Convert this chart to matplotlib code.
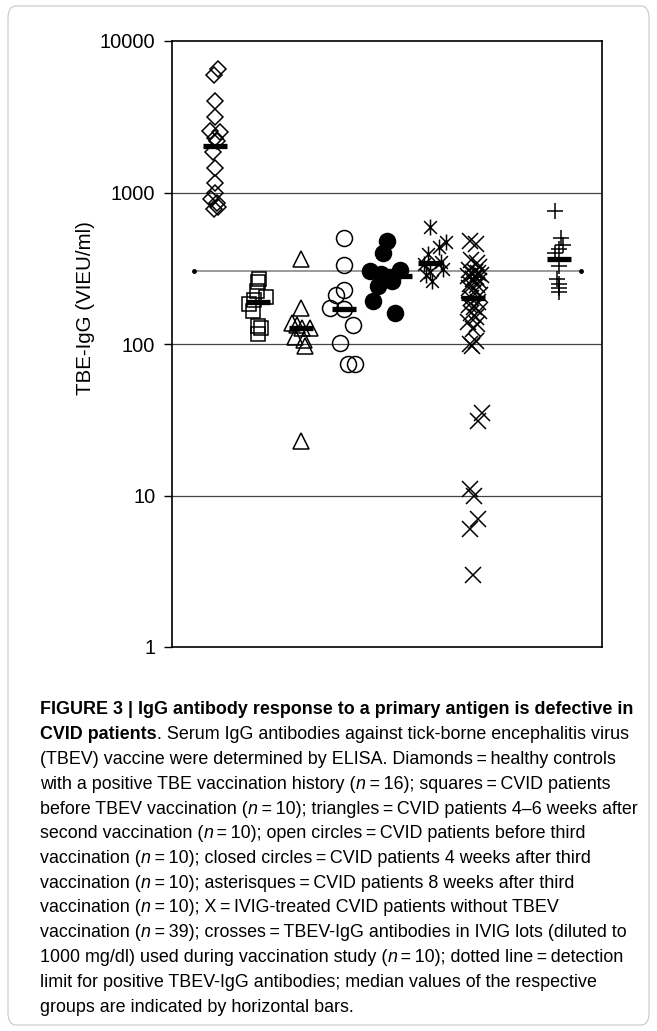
import re
import numpy as np
import matplotlib
matplotlib.use("Agg")
import matplotlib.pyplot as plt
from matplotlib.path import Path
from matplotlib.patches import FancyBboxPatch
from matplotlib import font_manager

# group values (VIEU/ml)
diamonds = [6500, 6000, 4000, 3150, 2550, 2500, 2300, 2200, 1850, 1450, 1150, 1000, 900, 850, 800, 780]
squares = [270, 255, 225, 205, 195, 185, 165, 132, 127, 117]
triangles = [365, 172, 137, 133, 127, 127, 112, 106, 97, 23]
open_circles = [500, 330, 227, 210, 172, 170, 133, 101, 74, 74]
closed_circles = [480, 400, 310, 305, 290, 275, 260, 240, 192, 160]
asterisks = [590, 470, 440, 390, 350, 335, 315, 300, 285, 260]
x_ivig = [480, 455, 360, 340, 320, 310, 300, 295, 290, 285,
          280, 275, 270, 260, 250, 245, 235, 225, 210, 200,
          190, 180, 175, 165, 160, 150, 140, 135, 125, 105,
          100, 97, 35, 31, 11, 10, 7, 6, 3]
crosses = [760, 500, 450, 425, 400, 325, 270, 250, 235, 222]
detection_limit = 305

# horizontal scatter of the points within each column
diamond_jit = [0.08, -0.02, 0, 0, -0.12, 0.12, 0, 0.05, -0.05, 0, 0, 0, -0.1, 0.05, 0.08, -0.02]
square_jit = [0.03, 0.0, -0.03, 0.18, -0.1, -0.2, -0.12, 0.0, 0.08, 0.0]
triangle_jit = [0, 0, -0.22, -0.1, 0.02, 0.2, -0.14, 0.08, 0.1, 0]
open_jit = [0, 0, 0, -0.19, -0.33, 0.0, 0.2, -0.1, 0.1, 0.25]
closed_jit = [0, -0.1, 0.3, -0.4, -0.15, 0.05, 0.12, -0.2, -0.32, 0.19]
aster_jit = [0, 0.38, 0.2, -0.05, 0.25, -0.15, 0.3, 0.0, -0.1, 0.05]
x_jit = [-0.08, 0.06, -0.05, 0.1, 0.15, -0.1, 0.05, 0.12, -0.02, 0.18,
         -0.12, 0.08, 0.0, 0.14, -0.06, 0.1, -0.1, 0.05, 0.16, -0.04,
         0.12, -0.1, 0.02, 0.15, -0.05, 0.08, -0.12, 0.1, 0.0, 0.06,
         -0.08, -0.02, 0.2, 0.12, -0.08, 0.02, 0.12, -0.08, 0.0]
cross_jit = [-0.1, 0.05, 0.1, 0.0, -0.1, 0.0, -0.05, 0.0, 0.0, 0.0]

# asterisk marker: X plus a vertical stroke
STAR = Path([(-1, -1), (1, 1), (-1, 1), (1, -1), (0, -1.25), (0, 1.25)],
            [Path.MOVETO, Path.LINETO] * 3)

GROUPS = [
    # values, jitter, x, marker, size, filled, median bar shift
    (diamonds, diamond_jit, 1, "D", 8.5, False, 0.0),
    (squares, square_jit, 2, "s", 10.5, False, 0.0),
    (triangles, triangle_jit, 3, "^", 11.5, False, 0.0),
    (open_circles, open_jit, 4, "o", 11.5, False, 0.0),
    (closed_circles, closed_jit, 5, "o", 11.5, True, 0.3),
    (asterisks, aster_jit, 6, STAR, 11.5, False, 0.0),
    (x_ivig, x_jit, 7, "x", 11, False, 0.0),
    (crosses, cross_jit, 9, "+", 12, False, 0.0),
]

names = {f.name for f in font_manager.fontManager.ttflist}
CAP_FONT = "Liberation Sans Narrow" if "Liberation Sans Narrow" in names else "Liberation Sans"
plt.rcParams["font.family"] = ["Liberation Sans", "DejaVu Sans"]

W, H = 657, 1031
fig = plt.figure(figsize=(W / 100, H / 100), dpi=100)
ax = fig.add_axes([172 / W, 1 - 647 / H, 430 / W, 606 / H])

for vals, jit, xpos, marker, ms, filled, shift in GROUPS:
    vals = np.asarray(vals, dtype=float)
    xs = xpos + np.asarray(jit)
    med = np.median(vals)
    ax.plot([xpos + shift - 0.27, xpos + shift + 0.27], [med, med],
            color="black", lw=3.8, solid_capstyle="butt", zorder=2)
    ax.plot(xs, vals, ls="none", marker=marker, ms=ms,
            mfc="black" if filled else "none", mec="black",
            mew=1.1, zorder=3)

ax.plot([0.5, 9.5], [detection_limit, detection_limit], color="#7f7f7f",
        lw=1.1, marker="o", ms=2.5, mfc="black", mec="black", zorder=1)

for g in [10, 100, 1000]:
    ax.axhline(g, color="#444444", lw=0.9, zorder=0)

ax.set_yscale("log")
ax.set_ylim(1, 10000)
ax.set_xlim(0, 10)
ax.set_yticks([1, 10, 100, 1000, 10000])
ax.set_yticklabels(["1", "10", "100", "1000", "10000"])
ax.yaxis.set_minor_locator(matplotlib.ticker.NullLocator())
ax.set_xticks([])
ax.tick_params(axis="y", length=6, width=1, pad=6, labelsize=14.4)
for s in ax.spines.values():
    s.set_linewidth(1.2)
ax.set_ylabel("TBE-IgG (VIEU/ml)", fontsize=14.8)
ax.yaxis.set_label_coords(-0.179, 0.56)

# rounded frame around the whole figure
fig.patches.append(FancyBboxPatch((8 / W, 6 / H), 641 / W, 1019 / H,
                                  boxstyle="round,pad=0,rounding_size=0.012",
                                  transform=fig.transFigure, fill=False,
                                  ec="#c8c8c8", lw=0.8))

caption = [
    "**FIGURE 3 | IgG antibody response to a primary antigen is defective in**",
    "**CVID patients**. Serum IgG antibodies against tick-borne encephalitis virus",
    "(TBEV) vaccine were determined by ELISA. Diamonds = healthy controls",
    "with a positive TBE vaccination history (_n_ = 16); squares = CVID patients",
    "before TBEV vaccination (_n_ = 10); triangles = CVID patients 4\u20136 weeks after",
    "second vaccination (_n_ = 10); open circles = CVID patients before third",
    "vaccination (_n_ = 10); closed circles = CVID patients 4 weeks after third",
    "vaccination (_n_ = 10); asterisques = CVID patients 8 weeks after third",
    "vaccination (_n_ = 10); X = IVIG-treated CVID patients without TBEV",
    "vaccination (_n_ = 39); crosses = TBEV-IgG antibodies in IVIG lots (diluted to",
    "1000 mg/dl) used during vaccination study (_n_ = 10); dotted line = detection",
    "limit for positive TBEV-IgG antibodies; median values of the respective",
    "groups are indicated by horizontal bars.",
]

CAP_FS = 12.9
renderer = fig.canvas.get_renderer()
y0, dy = 710, 24.75
for i, line in enumerate(caption):
    line = line.replace(" = ", "\u2009=\u2009")
    x = 40.0
    y = 1 - (y0 + i * dy) / H
    for part in re.split(r"(\*\*.*?\*\*|_n_)", line):
        if not part:
            continue
        kw = dict(fontsize=CAP_FS, family=[CAP_FONT, "DejaVu Sans"], va="center", ha="left")
        if part.startswith("**"):
            part = part[2:-2]
            kw["weight"] = "bold"
        elif part == "_n_":
            part = "n"
            kw["style"] = "italic"
        t = fig.text(x / W, y, part, **kw)
        x = t.get_window_extent(renderer).x1

fig.savefig("out.png", dpi=100)
